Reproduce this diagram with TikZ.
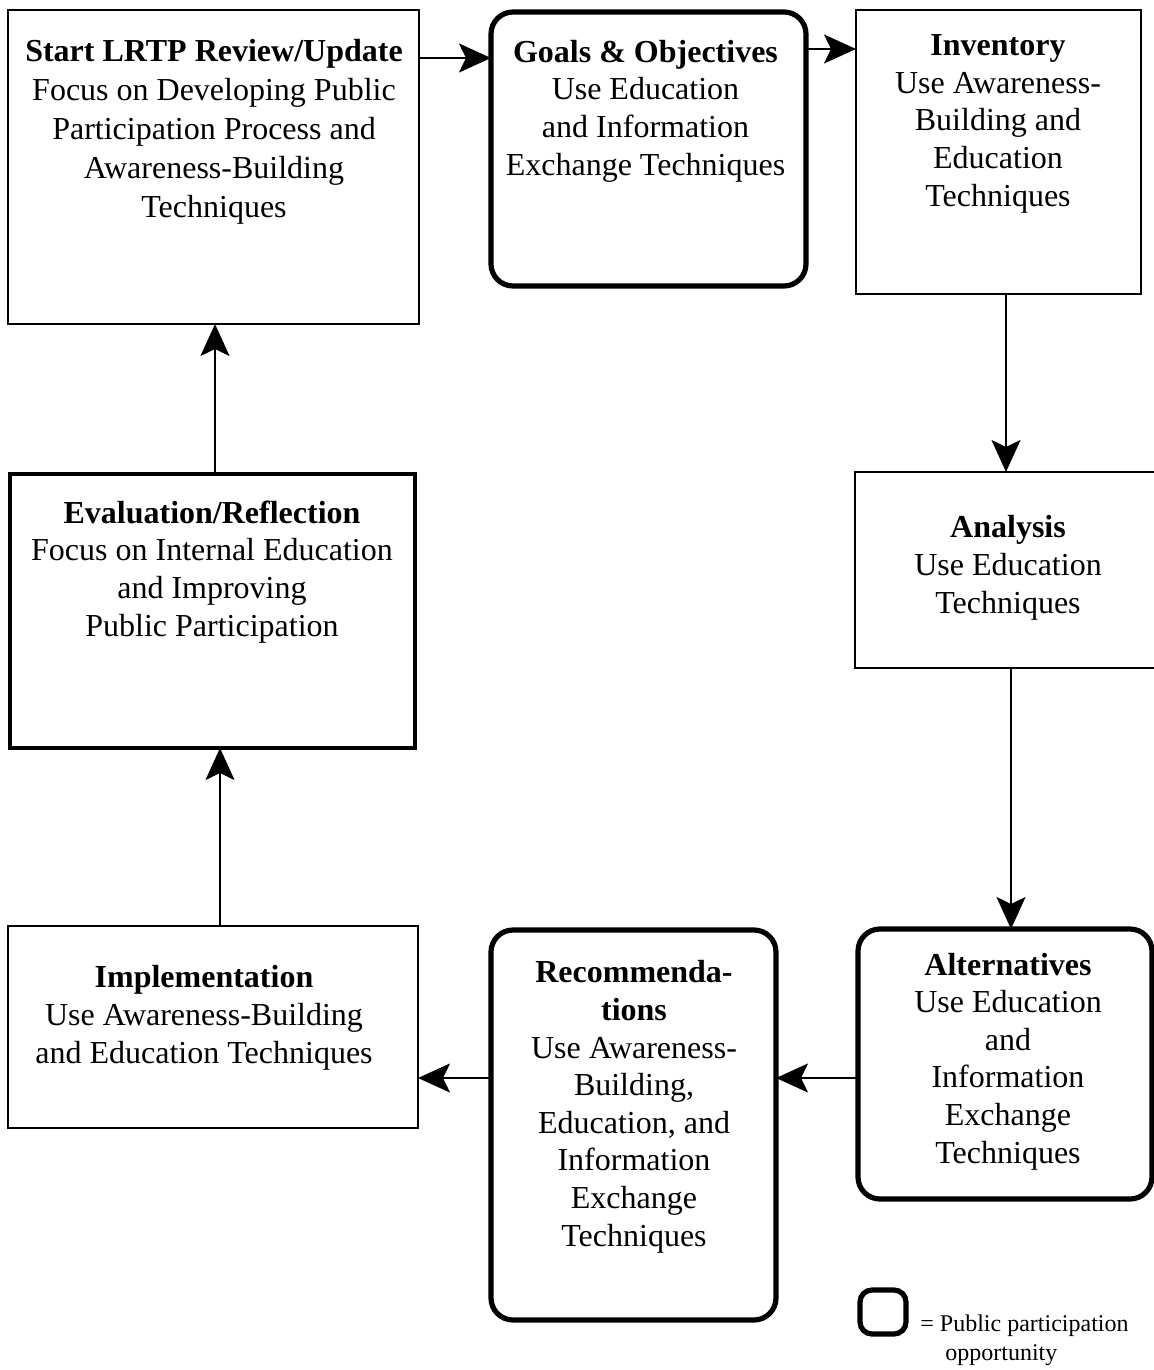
\documentclass[tikz,border=0pt]{standalone}
\usepackage{fontspec}
\setmainfont{Liberation Serif}
\usetikzlibrary{arrows.meta}
\begin{document}
\begin{tikzpicture}[x=0.5pt,y=-0.5pt,
  plain/.style={draw, line width=1pt, rectangle, inner sep=0pt, outer sep=0pt},
  heavy/.style={draw, line width=2.2pt, rectangle, inner sep=0pt, outer sep=0pt},
  public/.style={draw, line width=2.6pt, rectangle, rounded corners=11pt, inner sep=0pt, outer sep=0pt},
  % multi-line texts are placed by the baseline of their last line
  label/.style={align=center, anchor=base, inner sep=0pt, font=\fontsize{16}{18.8}\selectfont},
  keytext/.style={anchor=base west, inner sep=0pt, font=\fontsize{12}{14}\selectfont},
  flow/.style={line width=1pt, -{Stealth[length=16pt,width=14.5pt,inset=3.5pt]}}
]
\useasboundingbox (0,0) rectangle (1154,1370);

% process boxes
\node[plain,  minimum width=205.5pt, minimum height=157pt] (start) at (213.5,167) {};
\node[public, minimum width=157.5pt, minimum height=137pt] (goals) at (648.5,149) {};
\node[plain,  minimum width=142.5pt, minimum height=142pt] (inv)   at (998.5,152) {};
\node[plain,  minimum width=153.5pt, minimum height=98pt]  (ana)   at (1008.5,570) {};
\node[public, minimum width=147pt,   minimum height=135pt] (alt)   at (1005,1064) {};
\node[public, minimum width=142.5pt, minimum height=195pt] (rec)   at (633.5,1125) {};
\node[plain,  minimum width=205pt,   minimum height=101pt] (impl)  at (213,1027) {};
\node[heavy,  minimum width=202.5pt, minimum height=137pt] (eval)  at (212.5,611) {};

% box texts
\node[label, font=\fontsize{16}{19.4}\selectfont] (startT) at (214,217) {\textbf{Start LRTP Review/Update}\\Focus on Developing Public\\Participation Process and\\Awareness-Building\\Techniques};
\node[label] (goalsT) at (645.5,175) {\textbf{Goals \& Objectives}\\Use Education\\and Information\\Exchange Techniques};
\node[label] (invT) at (998,206) {\textbf{Inventory}\\Use Awareness-\\Building and\\Education\\Techniques};
\node[label] (anaT) at (1008,613) {\textbf{Analysis}\\Use Education\\Techniques};
\node[label] (altT) at (1008,1163) {\textbf{Alternatives}\\Use Education\\and\\Information\\Exchange\\Techniques};
\node[label] (recT) at (634,1246) {\textbf{Recommenda-}\\\textbf{tions}\\Use Awareness-\\Building,\\Education, and\\Information\\Exchange\\Techniques};
\node[label] (implT) at (204,1063) {\textbf{Implementation}\\Use Awareness-Building\\and Education Techniques};
\node[label] (evalT) at (212,636) {\textbf{Evaluation/Reflection}\\Focus on Internal Education\\and Improving\\Public Participation};

% connector levels
\coordinate (r1) at (0,58);
\coordinate (r2) at (0,49);
\coordinate (c3) at (1006,0);
\coordinate (c4) at (1011,0);
\coordinate (r5) at (0,1078);
\coordinate (c7) at (220,0);
\coordinate (c8) at (215,0);

\draw[flow] (start.east |- r1) -- (goals.west |- r1);
\draw[flow] (goals.east |- r2) -- (inv.west |- r2);
\draw[flow] (inv.south -| c3) -- (ana.north -| c3);
\draw[flow] (ana.south -| c4) -- (alt.north -| c4);
\draw[flow] (alt.west |- r5) -- (rec.east |- r5);
\draw[flow] (rec.west |- r5) -- (impl.east |- r5);
\draw[flow] (impl.north -| c7) -- (eval.south -| c7);
\draw[flow] (eval.north -| c8) -- (start.south -| c8);

% legend
\node[public, rounded corners=6pt, minimum width=23pt, minimum height=22pt] (key) at (883,1312) {};
\node[keytext] (keyA) at (920,1331) {= Public participation};
\node[keytext] (keyB) at (945,1360) {opportunity};
\end{tikzpicture}
\end{document}
